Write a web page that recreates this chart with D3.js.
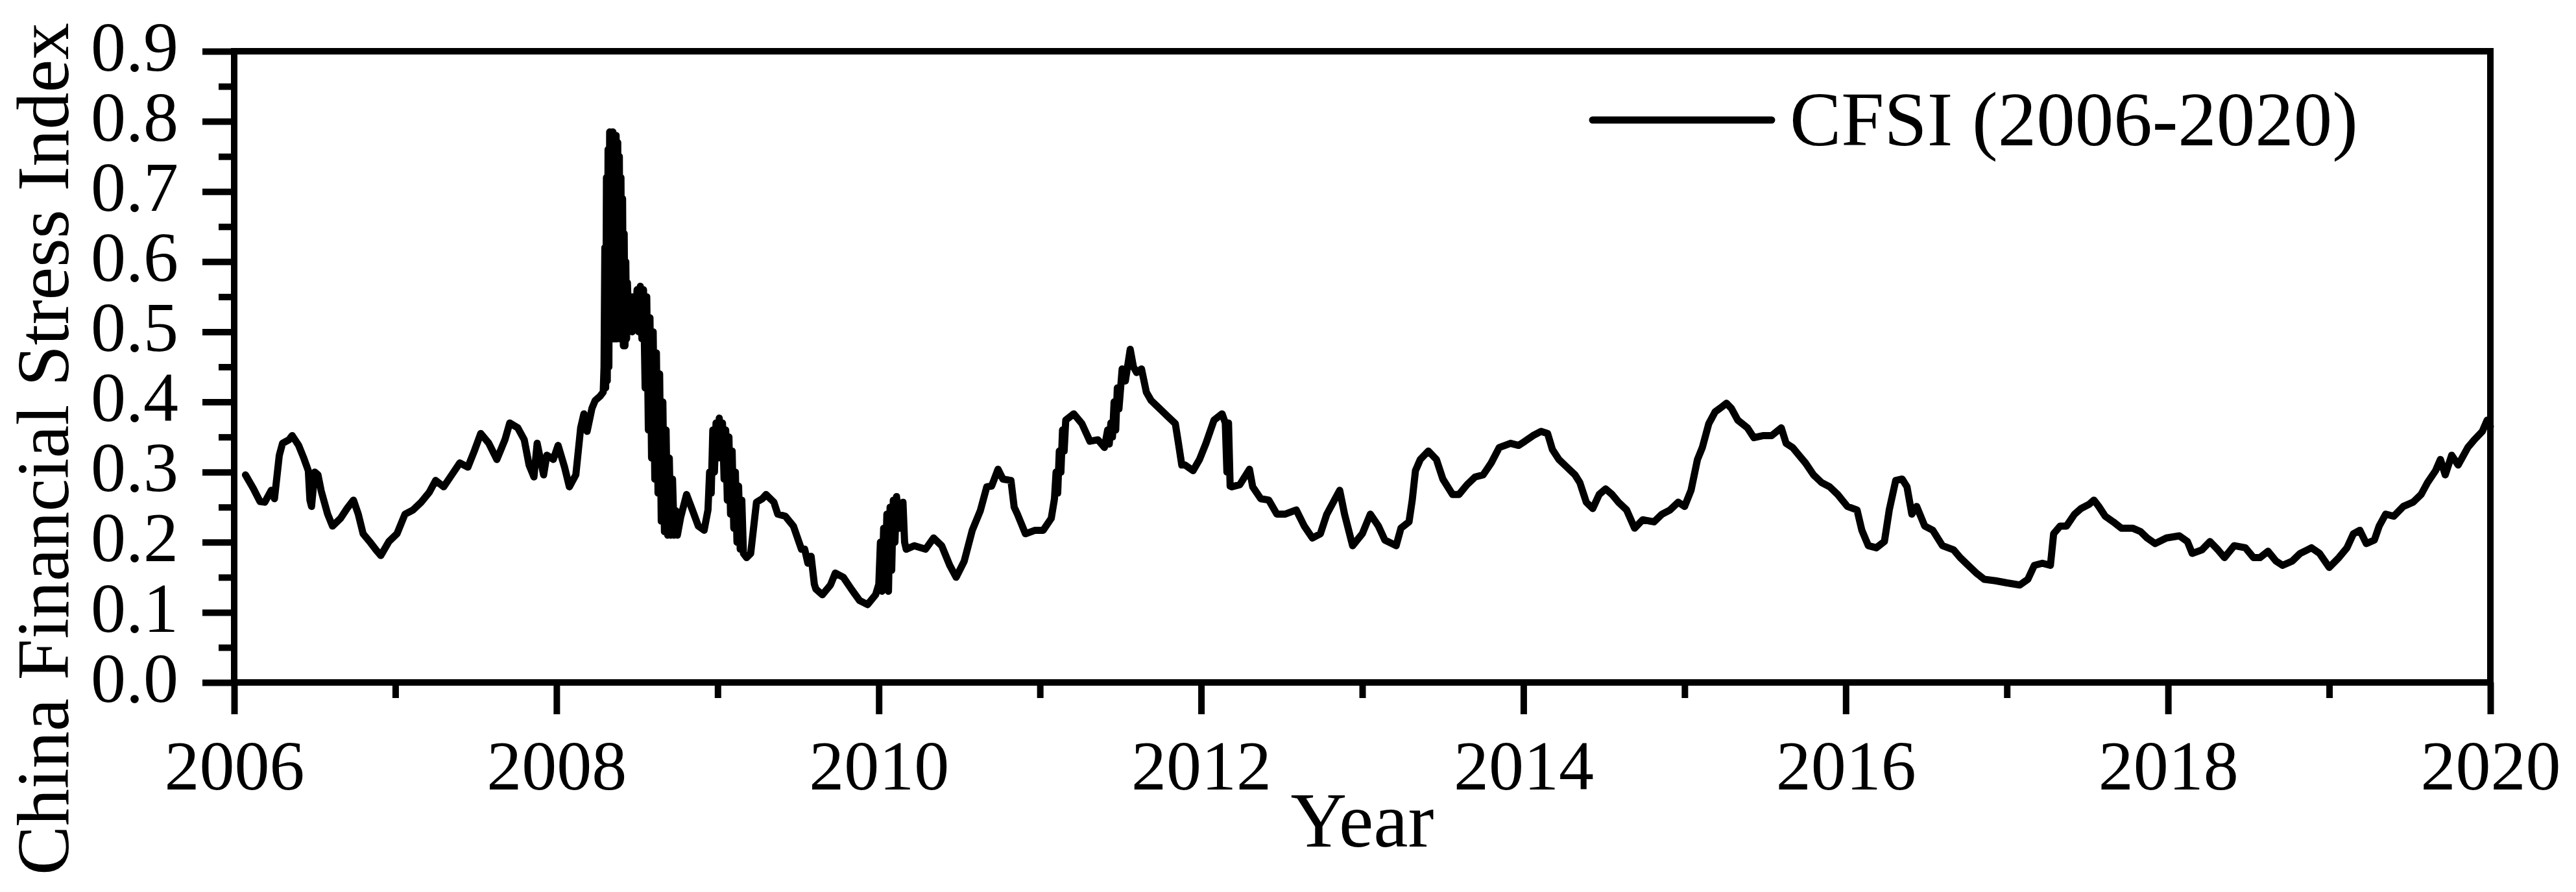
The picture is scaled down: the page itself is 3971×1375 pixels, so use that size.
<!DOCTYPE html>
<html>
<head>
<meta charset="utf-8">
<script src="https://cdn.jsdelivr.net/npm/d3@7"></script>
<style>
  body { margin: 0; background: #fff; }
  text { font-family: "Times New Roman", "Liberation Serif", serif; fill: #000; }
</style>
</head>
<body>
<svg id="chart" width="3971" height="1375"></svg>
<script>
// CFSI readings: [decimal year, index value]
var cfsiReadings = [
  [2006.07,0.296],[2006.12,0.276],[2006.16,0.258],[2006.19,0.257],[2006.23,0.274],[2006.25,0.262],
  [2006.28,0.324],[2006.30,0.341],[2006.34,0.346],[2006.36,0.352],[2006.40,0.338],[2006.43,0.321],
  [2006.46,0.302],[2006.47,0.260],[2006.48,0.251],[2006.50,0.300],[2006.52,0.296],[2006.54,0.273],
  [2006.58,0.240],[2006.61,0.223],[2006.66,0.234],[2006.70,0.248],[2006.74,0.260],[2006.77,0.240],
  [2006.80,0.212],[2006.84,0.201],[2006.88,0.189],[2006.91,0.181],[2006.96,0.201],
  [2007.01,0.212],[2007.06,0.240],[2007.11,0.246],[2007.16,0.257],[2007.21,0.271],[2007.25,0.288],
  [2007.30,0.279],[2007.35,0.296],[2007.40,0.313],[2007.45,0.307],[2007.49,0.330],[2007.53,0.355],
  [2007.58,0.341],[2007.63,0.318],[2007.68,0.346],[2007.71,0.370],[2007.76,0.363],[2007.80,0.346],
  [2007.83,0.310],[2007.86,0.293],[2007.88,0.341],[2007.92,0.296],[2007.94,0.324],[2007.98,0.318],
  [2008.01,0.338],[2008.05,0.307],[2008.08,0.279],[2008.12,0.296],[2008.15,0.363],[2008.17,0.383],
  [2008.19,0.358],[2008.22,0.391],[2008.24,0.402],[2008.27,0.408],[2008.29,0.414],
  [2008.295,0.45],[2008.300,0.62],[2008.305,0.42],[2008.310,0.72],[2008.315,0.43],[2008.320,0.76],
  [2008.325,0.45],[2008.330,0.785],[2008.335,0.49],[2008.340,0.78],[2008.345,0.50],[2008.350,0.785],
  [2008.355,0.49],[2008.360,0.78],[2008.365,0.49],[2008.370,0.78],[2008.375,0.49],[2008.380,0.77],
  [2008.385,0.50],[2008.390,0.75],[2008.395,0.49],[2008.400,0.72],[2008.405,0.49],[2008.410,0.69],
  [2008.415,0.48],[2008.420,0.64],[2008.425,0.48],[2008.430,0.60],[2008.435,0.49],[2008.440,0.57],
  [2008.450,0.50],[2008.460,0.55],[2008.470,0.50],[2008.480,0.55],[2008.490,0.52],[2008.500,0.56],
  [2008.510,0.50],[2008.520,0.565],[2008.530,0.49],[2008.540,0.56],[2008.550,0.42],[2008.560,0.55],
  [2008.570,0.36],[2008.580,0.52],[2008.590,0.32],[2008.600,0.50],[2008.610,0.29],[2008.620,0.47],
  [2008.630,0.27],[2008.640,0.44],[2008.650,0.23],[2008.660,0.40],[2008.670,0.215],[2008.680,0.36],
  [2008.690,0.21],[2008.700,0.32],[2008.710,0.21],[2008.720,0.29],[2008.730,0.21],[2008.740,0.245],
  [2008.750,0.21],[2008.770,0.235],[2008.807,0.268],[2008.843,0.246],[2008.880,0.223],[2008.916,0.217],
  [2008.940,0.246],[2008.950,0.30],[2008.960,0.27],[2008.970,0.36],[2008.980,0.30],[2008.990,0.37],
  [2009.000,0.32],[2009.010,0.377],[2009.020,0.32],[2009.030,0.37],[2009.040,0.29],[2009.050,0.36],
  [2009.060,0.26],[2009.070,0.35],[2009.080,0.24],[2009.090,0.33],[2009.100,0.22],[2009.110,0.30],
  [2009.120,0.20],[2009.130,0.28],[2009.140,0.19],[2009.150,0.26],[2009.160,0.184],[2009.180,0.178],
  [2009.205,0.184],[2009.241,0.257],[2009.277,0.262],[2009.300,0.268],[2009.349,0.257],[2009.373,0.240],
  [2009.420,0.237],[2009.470,0.223],[2009.520,0.190],[2009.540,0.190],[2009.560,0.170],[2009.580,0.180],
  [2009.600,0.140],[2009.610,0.133],[2009.650,0.125],[2009.700,0.139],[2009.730,0.156],[2009.780,0.150],
  [2009.830,0.133],[2009.880,0.117],[2009.930,0.111],[2009.980,0.125],
  [2010.00,0.14],[2010.01,0.20],[2010.02,0.13],[2010.03,0.22],[2010.04,0.14],[2010.05,0.24],
  [2010.06,0.13],[2010.07,0.25],[2010.08,0.16],[2010.09,0.26],[2010.10,0.20],[2010.11,0.265],
  [2010.13,0.22],[2010.15,0.257],[2010.16,0.20],[2010.17,0.19],[2010.22,0.195],[2010.29,0.19],
  [2010.34,0.206],[2010.39,0.195],[2010.44,0.167],[2010.48,0.150],[2010.53,0.173],[2010.58,0.217],
  [2010.63,0.245],[2010.67,0.279],[2010.70,0.280],[2010.74,0.304],[2010.77,0.290],[2010.82,0.288],
  [2010.84,0.250],[2010.86,0.240],[2010.91,0.212],[2010.97,0.217],
  [2011.02,0.217],[2011.07,0.234],[2011.09,0.262],[2011.10,0.30],[2011.11,0.27],[2011.12,0.33],
  [2011.13,0.30],[2011.14,0.36],[2011.15,0.33],[2011.16,0.374],[2011.21,0.383],[2011.26,0.369],
  [2011.31,0.344],[2011.36,0.346],[2011.40,0.335],[2011.42,0.36],[2011.43,0.34],[2011.44,0.37],
  [2011.45,0.35],[2011.46,0.40],[2011.47,0.36],[2011.48,0.42],[2011.49,0.39],[2011.51,0.447],
  [2011.53,0.43],[2011.56,0.475],[2011.58,0.45],[2011.60,0.442],[2011.63,0.447],[2011.66,0.414],
  [2011.69,0.402],[2011.74,0.391],[2011.79,0.380],[2011.84,0.369],[2011.86,0.340],[2011.88,0.310],
  [2011.90,0.310],[2011.95,0.302],[2011.99,0.318],
  [2012.03,0.341],[2012.08,0.374],[2012.13,0.383],[2012.15,0.37],[2012.16,0.30],[2012.17,0.37],
  [2012.18,0.28],[2012.19,0.279],[2012.24,0.282],[2012.30,0.304],[2012.32,0.279],[2012.37,0.262],
  [2012.42,0.260],[2012.47,0.240],[2012.52,0.240],[2012.59,0.246],[2012.64,0.223],[2012.69,0.206],
  [2012.74,0.212],[2012.78,0.240],[2012.86,0.274],[2012.89,0.240],[2012.94,0.195],
  [2013.00,0.212],[2013.05,0.240],[2013.10,0.223],[2013.14,0.203],[2013.21,0.195],[2013.24,0.220],
  [2013.29,0.229],[2013.31,0.260],[2013.33,0.302],[2013.36,0.318],[2013.41,0.330],[2013.46,0.318],
  [2013.50,0.290],[2013.56,0.268],[2013.60,0.268],[2013.65,0.282],[2013.70,0.293],[2013.75,0.296],
  [2013.80,0.313],[2013.85,0.335],[2013.92,0.341],[2013.97,0.338],
  [2014.01,0.344],[2014.06,0.352],[2014.11,0.358],[2014.15,0.355],[2014.18,0.332],[2014.22,0.318],
  [2014.27,0.307],[2014.32,0.296],[2014.35,0.285],[2014.39,0.257],[2014.43,0.248],[2014.47,0.268],
  [2014.51,0.276],[2014.55,0.268],[2014.59,0.257],[2014.64,0.246],[2014.69,0.220],[2014.74,0.232],
  [2014.81,0.229],[2014.86,0.240],[2014.91,0.246],[2014.96,0.257],
  [2015.00,0.251],[2015.04,0.274],[2015.08,0.318],[2015.11,0.335],[2015.15,0.369],[2015.19,0.386],
  [2015.22,0.391],[2015.26,0.398],[2015.29,0.391],[2015.33,0.374],[2015.39,0.363],[2015.43,0.349],
  [2015.49,0.352],[2015.54,0.352],[2015.60,0.363],[2015.63,0.341],[2015.67,0.335],[2015.71,0.324],
  [2015.75,0.313],[2015.80,0.296],[2015.85,0.285],[2015.90,0.279],[2015.95,0.268],
  [2016.01,0.251],[2016.07,0.246],[2016.10,0.217],[2016.14,0.195],[2016.19,0.192],[2016.24,0.201],
  [2016.27,0.246],[2016.31,0.288],[2016.35,0.290],[2016.38,0.279],[2016.41,0.240],[2016.44,0.251],
  [2016.49,0.223],[2016.54,0.217],[2016.60,0.195],[2016.67,0.189],[2016.71,0.178],[2016.76,0.167],
  [2016.81,0.156],[2016.86,0.147],[2016.93,0.145],
  [2017.00,0.142],[2017.08,0.139],[2017.13,0.147],[2017.17,0.167],[2017.22,0.170],[2017.27,0.167],
  [2017.29,0.212],[2017.33,0.223],[2017.37,0.223],[2017.42,0.240],[2017.46,0.248],[2017.51,0.254],
  [2017.54,0.260],[2017.57,0.251],[2017.61,0.237],[2017.66,0.229],[2017.71,0.220],[2017.78,0.220],
  [2017.83,0.215],[2017.87,0.206],[2017.92,0.198],[2017.99,0.206],
  [2018.07,0.209],[2018.12,0.201],[2018.15,0.184],[2018.21,0.189],[2018.26,0.201],[2018.31,0.189],
  [2018.35,0.178],[2018.41,0.195],[2018.48,0.192],[2018.53,0.178],[2018.57,0.178],[2018.62,0.187],
  [2018.67,0.173],[2018.71,0.167],[2018.77,0.173],[2018.82,0.184],[2018.89,0.192],[2018.94,0.184],
  [2019.00,0.164],[2019.06,0.178],[2019.11,0.192],[2019.15,0.212],[2019.19,0.217],[2019.23,0.198],
  [2019.28,0.203],[2019.31,0.223],[2019.35,0.240],[2019.40,0.237],[2019.46,0.251],[2019.52,0.257],
  [2019.57,0.268],[2019.61,0.285],[2019.66,0.302],[2019.69,0.318],[2019.72,0.296],[2019.76,0.324],
  [2019.80,0.310],[2019.86,0.335],[2019.90,0.346],[2019.95,0.358],[2019.98,0.374],[2020.00,0.365]
];

var yMajorTicks = [0, 0.1, 0.2, 0.3, 0.4, 0.5, 0.6, 0.7, 0.8, 0.9];
var yMinorTicks = [0.05, 0.15, 0.25, 0.35, 0.45, 0.55, 0.65, 0.75, 0.85];
var xMajorTicks = [2006, 2008, 2010, 2012, 2014, 2016, 2018, 2020];
var xMinorTicks = [2007, 2009, 2011, 2013, 2015, 2017, 2019];
var seriesName = "CFSI (2006-2020)";

var svg = d3.select("#chart");
var plotLeft = 361, plotRight = 3839, plotTop = 79, plotBottom = 1052;

var x = d3.scaleLinear().domain([2006, 2020]).range([plotLeft, plotRight]);
var y = d3.scaleLinear().domain([0, 0.9]).range([plotBottom, plotTop]);

// data line
var line = d3.line()
    .x(function(d) { return x(d[0]); })
    .y(function(d) { return y(d[1]); });

svg.append("path")
    .datum(cfsiReadings)
    .attr("fill", "none")
    .attr("stroke", "#000")
    .attr("stroke-width", 11)
    .attr("stroke-linejoin", "round")
    .attr("stroke-linecap", "round")
    .attr("d", line);

// frame
svg.append("rect")
    .attr("x", plotLeft).attr("y", plotTop)
    .attr("width", plotRight - plotLeft).attr("height", plotBottom - plotTop)
    .attr("fill", "none").attr("stroke", "#000").attr("stroke-width", 10);

// y axis
var yAxis = svg.append("g").attr("transform", "translate(" + plotLeft + ",0)")
    .call(d3.axisLeft(y).tickValues(yMajorTicks).tickSize(49).tickPadding(37)
      .tickFormat(d3.format(".1f")));
var yMinor = svg.append("g").attr("transform", "translate(" + plotLeft + ",0)")
    .call(d3.axisLeft(y).tickValues(yMinorTicks).tickSize(24).tickFormat(""));

// x axis
var xAxis = svg.append("g").attr("transform", "translate(0," + plotBottom + ")")
    .call(d3.axisBottom(x).tickValues(xMajorTicks).tickSize(49).tickPadding(39)
      .tickFormat(d3.format("d")));
var xMinor = svg.append("g").attr("transform", "translate(0," + plotBottom + ")")
    .call(d3.axisBottom(x).tickValues(xMinorTicks).tickSize(24).tickFormat(""));

[yAxis, yMinor, xAxis, xMinor].forEach(function(g) {
  g.select(".domain").remove();
  g.selectAll(".tick line").attr("stroke", "#000").attr("stroke-width", 10);
  g.selectAll(".tick text")
      .style("font-family", '"Times New Roman", "Liberation Serif", serif')
      .style("font-size", "108px").attr("fill", "#000");
});
yAxis.selectAll(".tick text").attr("dy", "0.27em");

// axis titles
svg.append("text")
    .attr("x", (plotLeft + plotRight) / 2).attr("y", 1305)
    .attr("text-anchor", "middle")
    .style("font-size", "120px")
    .text("Year");

svg.append("text")
    .attr("transform", "translate(105,692) rotate(-90)")
    .attr("text-anchor", "middle")
    .style("font-size", "114px")
    .text("China Financial Stress Index");

// legend
svg.append("line")
    .attr("x1", 2455).attr("x2", 2731).attr("y1", 185).attr("y2", 185)
    .attr("stroke", "#000").attr("stroke-width", 11).attr("stroke-linecap", "round");
svg.append("text")
    .attr("x", 2759).attr("y", 224)
    .style("font-size", "119px")
    .text(seriesName);
</script>
</body>
</html>
